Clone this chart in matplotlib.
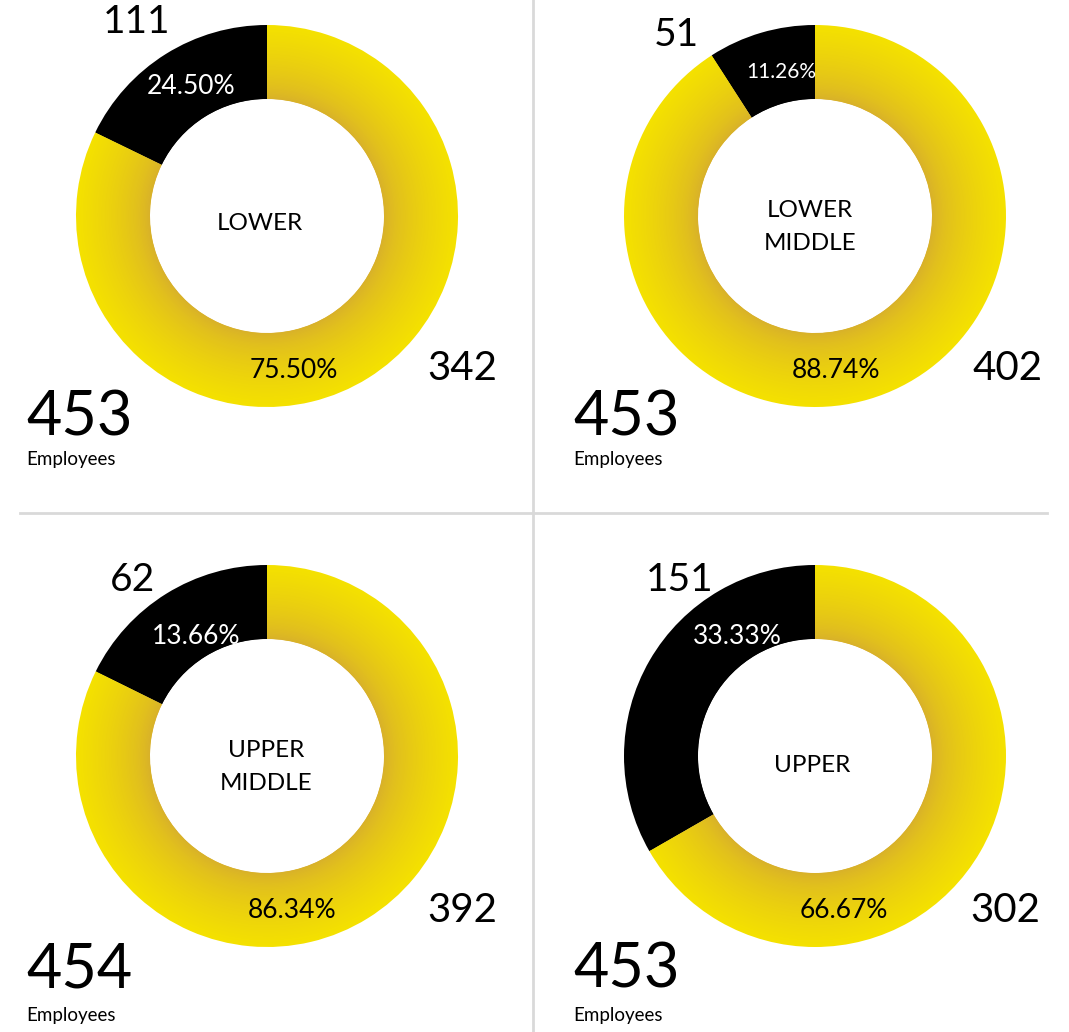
import numpy as np
import matplotlib
matplotlib.use("Agg")
import matplotlib.pyplot as plt
from matplotlib.colors import to_rgb

# ---- data ----
categories = ["LOWER", "LOWER\nMIDDLE", "UPPER\nMIDDLE", "UPPER"]
black_counts = [111, 51, 62, 151]
yellow_counts = [342, 402, 392, 302]
totals = [453, 453, 454, 453]
# share of the ring drawn black in the picture (percent)
drawn_black_share = [17.8, 9.1, 17.7, 33.3]
total_label = "Employees"

# ---- layout ----
W, H = 1069, 1032
fig = plt.figure(figsize=(W / 100, H / 100), dpi=100)
ax = fig.add_axes([0, 0, 1, 1])
FONT = "Lato"

centers = [(267, 216), (815, 216), (267, 756), (815, 756)]
r_out, r_in = 191, 117
inner_col = np.array(to_rgb("#D6AC2E"))
outer_col = np.array(to_rgb("#F4E100"))
n_bands = 60
edges = np.linspace(r_in, r_out, n_bands + 1)

# text offsets (pixels, y down) relative to donut centre
off_black_num = [(-130, -194), (-139, -181), (-134, -176), (-135, -176)]
off_black_pct = [(-76, -130), (-34, -144), (-71, -120), (-78, -120)]
off_center = [(-7, 8), (-5, 11), (-1, 11), (-3, 9)]
off_yel_pct = [(27, 154), (21, 154), (25, 154), (29, 154)]
off_yel_num = [(195, 152), (193, 152), (195, 154), (190, 154)]
pct_size = [19, 15, 19, 19]
big_left = [26, 573, 26, 573]
big_y = [418, 418, 970, 970]
emp_y = [460, 460, 1016, 1016]

for i, (cx, cy) in enumerate(centers):
    yc = H - cy
    vals = [drawn_black_share[i], 100 - drawn_black_share[i]]
    for k in range(n_bands):
        ro = edges[k + 1]
        t = ((edges[k] + edges[k + 1]) / 2 - r_in) / (r_out - r_in)
        t = t ** 0.6
        col = inner_col * (1 - t) + outer_col * t
        w = (ro - edges[k]) + (0 if k == 0 else 1.0)
        ax.pie(vals, radius=ro, center=(cx, yc), startangle=90,
               counterclock=True, colors=["black", col],
               wedgeprops=dict(width=w, linewidth=0))

    tot = black_counts[i] + yellow_counts[i]
    pb = 100 * black_counts[i] / tot
    py = 100 * yellow_counts[i] / tot

    def T(off, s, **kw):
        ax.text(cx + off[0], H - (cy + off[1]), s, ha="center", va="center",
                family=FONT, **kw)

    T(off_black_num[i], str(black_counts[i]), fontsize=28, color="black")
    T(off_black_pct[i], f"{pb:.2f}%", fontsize=pct_size[i], color="white")
    T(off_center[i], categories[i], fontsize=17.5, color="black", linespacing=1.75)
    T(off_yel_pct[i], f"{py:.2f}%", fontsize=19, color="black")
    T(off_yel_num[i], str(yellow_counts[i]), fontsize=29, color="black")

    ax.text(big_left[i], H - big_y[i], str(totals[i]), ha="left", va="center",
            family=FONT, fontsize=44, color="black")
    ax.text(big_left[i], H - emp_y[i], total_label, ha="left", va="center",
            family=FONT, fontsize=13.5, color="black")

# separators
ax.plot([533, 533], [0, H], color="#D9D9D9", lw=2)
ax.plot([20, 1047], [H - 513, H - 513], color="#D9D9D9", lw=2)

ax.set_aspect("auto")
ax.set_xlim(0, W)
ax.set_ylim(0, H)
ax.axis("off")

fig.savefig("out.png", dpi=100, facecolor="white")
